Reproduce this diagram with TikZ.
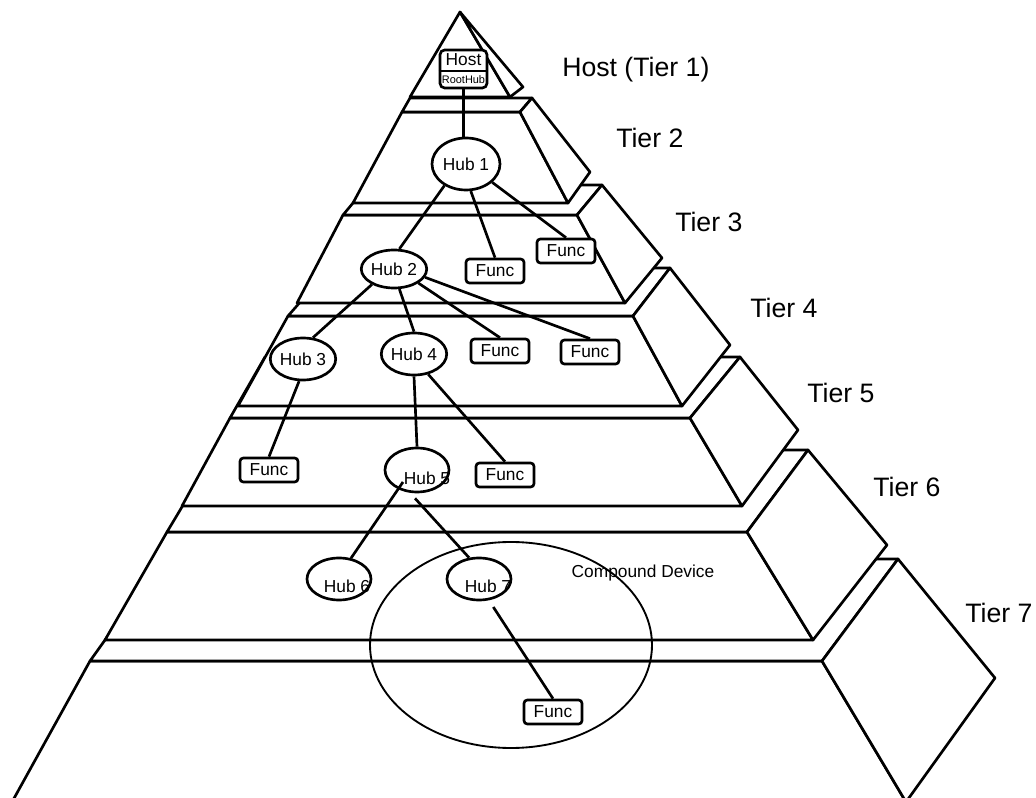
\documentclass[tikz,border=0pt]{standalone}
\usepackage{fontspec}
\setmainfont{Liberation Sans}
\usetikzlibrary{shapes.geometric,calc}
\tikzset{
  face/.style={draw=black, fill=white, line width=2pt, line join=round},
  hub/.style={draw, ellipse, line width=2pt, fill=white, inner sep=0pt,
    minimum width=48pt, minimum height=31.5pt, font=\fontsize{13pt}{15pt}\selectfont},
  hubtext/.style={font=\fontsize{13pt}{15pt}\selectfont, inner sep=0pt},
  func/.style={draw, rectangle, rounded corners=2.5pt, line width=2pt, fill=white,
    minimum width=43.5pt, minimum height=18pt, inner sep=0pt, font=\fontsize{13pt}{15pt}\selectfont},
  link/.style={line width=2pt},
  tierlabel/.style={font=\fontsize{20pt}{24pt}\selectfont, anchor=base west, inner sep=0pt},
  group/.style={draw, ellipse, line width=1.4pt, inner sep=0pt},
}
\begin{document}
\begin{tikzpicture}[x=0.75pt,y=-0.75pt]
\useasboundingbox (0,0) rectangle (1036,798);
\clip (0,0) rectangle (1036,798);

% ---- pyramid slabs, bottom to top (upper slabs cover lower ones) ----
% Tier 7
\draw[face] (90,661) -- (822,661) -- (906,802) -- (12,802) -- cycle;
\draw[face] (163,559) -- (898,559) -- (822,661) -- (90,661) -- cycle;
\draw[face] (822,661) -- (898,559) -- (995,678) -- (906,802) -- cycle;
% Tier 6
\draw[face] (167,532) -- (747,532) -- (813,640) -- (105,640) -- cycle;
\draw[face] (216,450) -- (808,450) -- (747,532) -- (167,532) -- cycle;
\draw[face] (747,532) -- (808,450) -- (887,545) -- (813,640) -- cycle;
% Tier 5
\draw[face] (230,418) -- (690,418) -- (742,506) -- (182,506) -- cycle;
\draw[face] (265,357) -- (740,357) -- (690,418) -- (230,418) -- cycle;
\draw[face] (690,418) -- (740,357) -- (798,430) -- (742,506) -- cycle;
% Tier 4
\draw[face] (288,316) -- (633,316) -- (682,406) -- (238,406) -- cycle;
\draw[face] (330,268) -- (670,268) -- (633,316) -- (288,316) -- cycle;
\draw[face] (633,316) -- (670,268) -- (730,345) -- (682,406) -- cycle;
% Tier 3
\draw[face] (343,215) -- (577,215) -- (625,303) -- (297,303) -- cycle;
\draw[face] (368,185) -- (602,185) -- (577,215) -- (343,215) -- cycle;
\draw[face] (577,215) -- (602,185) -- (662,258) -- (625,303) -- cycle;
% Tier 2
\draw[face] (402,112) -- (520,112) -- (568,203) -- (353,203) -- cycle;
\draw[face] (410,98) -- (532,98) -- (520,112) -- (402,112) -- cycle;
\draw[face] (520,112) -- (532,98) -- (590,172) -- (568,203) -- cycle;
% Tier 1 (apex)
\draw[face] (460,12) -- (510,97) -- (410,97) -- cycle;
\draw[face] (460,12) -- (523,87) -- (510,97) -- cycle;

% ---- tier captions ----
\node[tierlabel] (t1) at (562,77) {Host (Tier 1)};
\node[tierlabel] (t2) at (616,148) {Tier 2};
\node[tierlabel] (t3) at (675,232) {Tier 3};
\node[tierlabel] (t4) at (750,318) {Tier 4};
\node[tierlabel] (t5) at (807,403) {Tier 5};
\node[tierlabel] (t6) at (873,497) {Tier 6};
\node[tierlabel] (t7) at (965,622) {Tier 7};

% ---- compound device outline ----
\node[group, minimum width=211.5pt, minimum height=154.5pt] (compound) at (511,645) {};
\node[hubtext] (compoundlabel) at (643,573) {Compound Device};

% ---- host with root hub ----
\node[draw, rectangle, rounded corners=3.5pt, line width=2pt, fill=white,
      minimum width=35.25pt, minimum height=28.5pt, inner sep=0pt] (host) at (463.5,69) {};
\draw[line width=1.5pt] (host.west |- 0,71) -- (host.east |- 0,71);
\node[hubtext] (hostname) at (463.5,60) {Host};
\node[font=\fontsize{8.2pt}{9pt}\selectfont, inner sep=0pt] (roothub) at (463.5,80) {RootHub};

% ---- hubs ----
\node[hub, minimum width=51pt, minimum height=39pt] (hub1) at (466,164) {Hub 1};
\node[hub, minimum width=46.5pt, minimum height=28.5pt] (hub2) at (394,269) {Hub 2};
\node[hub] (hub3) at (303,359) {Hub 3};
\node[hub] (hub4) at (414,354) {Hub 4};
\node[hub, minimum height=33pt,
      label={[hubtext, xshift=7.5pt, yshift=-6pt]center:Hub 5}] (hub5) at (417,470) {};
\node[hub, label={[hubtext, xshift=6pt, yshift=-5.25pt]center:Hub 6}] (hub6) at (339,579) {};
\node[hub, label={[hubtext, xshift=6.75pt, yshift=-5.25pt]center:Hub 7}] (hub7) at (479,579) {};

% ---- functions ----
\node[func] (f3a) at (495,271) {Func};
\node[func] (f3b) at (566,251) {Func};
\node[func] (f4a) at (500,351) {Func};
\node[func] (f4b) at (590,352) {Func};
\node[func] (f5a) at (269,470) {Func};
\node[func] (f5b) at (505,475) {Func};
\node[func] (f7) at (553,712) {Func};

% ---- connections ----
\draw[link] (host.south) -- (host.south |- hub1.north);
\draw[link] (hub1.225) -- (hub2.75);
\draw[link] (hub1.-80) -- (f3a.north);
\draw[link] (hub1.-35) -- (f3b.north);
\draw[link] (hub2.215) -- (hub3.65);
\draw[link] (hub2.-75) -- (hub4.north);
\draw[link] (hub2.-30) -- (f4a.north);
\draw[link] (hub2.-15) -- (f4b.north);
\draw[link] (hub3.-100) -- (f5a.north);
\draw[link] (hub4.south) -- (hub5.north);
\draw[link] (hub4.-55) -- (f5b.north);
\draw[link] ($(hub5.center)+(-14,12)$) -- (hub6.60);
\draw[link] ($(hub5.south)+(-2,5)$) -- (hub7.115);
\draw[link, shorten <=6pt] (hub7.-65) -- (f7.north);
\end{tikzpicture}
\end{document}
